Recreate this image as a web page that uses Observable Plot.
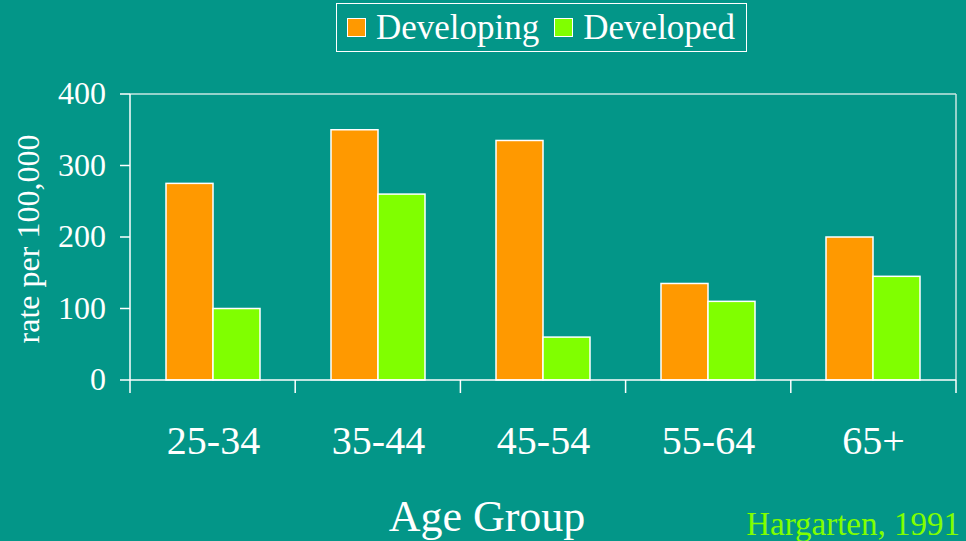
<!DOCTYPE html>
<html><head><meta charset="utf-8">
<script src="https://cdn.jsdelivr.net/npm/d3@7"></script>
<script src="https://cdn.jsdelivr.net/npm/@observablehq/plot@0.6"></script>
<style>
html,body{margin:0;padding:0;background:#039688;}
#wrap{position:relative;width:966px;height:541px;overflow:hidden;font-family:"Liberation Serif","Times New Roman",serif;color:#fff;}
#legend{position:absolute;left:336px;top:3px;width:409px;height:47px;border:1.5px solid #fff;display:flex;align-items:center;font-size:35px;line-height:1;}
#legend .sw{width:17px;height:17px;border:1px solid #fff;margin:0 10px 0 10px;flex:none;}
#legend .gap{width:5px;}
</style></head>
<body>
<div id="wrap"><div id="legend"></div></div>
<script>
const groups = ["25-34", "35-44", "45-54", "55-64", "65+"];
const series = ["Developing", "Developed"];
const developing = [275, 350, 335, 135, 200];
const developed = [100, 260, 60, 110, 145];
const yTicks = [0, 100, 200, 300, 400];
const colors = ["#FF9900", "#80FF00"];
const xLabel = "Age Group";
const yLabel = "rate per 100,000";
const source = "Hargarten, 1991";

const data = groups.flatMap((g, i) => [
  {group: g, series: series[0], value: developing[i]},
  {group: g, series: series[1], value: developed[i]}
]);

const legend = document.getElementById("legend");
series.forEach((s, i) => {
  if (i > 0) { const gp = document.createElement("span"); gp.className = "gap"; legend.appendChild(gp); }
  const sw = document.createElement("span"); sw.className = "sw"; sw.style.background = colors[i];
  const tx = document.createElement("span"); tx.textContent = s;
  legend.appendChild(sw); legend.appendChild(tx);
});

const baseOpts = {
  width: 966, height: 541,
  marginLeft: 130, marginRight: 10, marginTop: 94, marginBottom: 161,
  style: {background: "transparent", color: "#fff", fontFamily: "Liberation Serif, Times New Roman, serif", fontSize: "32px"},
  facet: {data, x: "group"},
  fx: {domain: groups, paddingInner: 0.43, paddingOuter: 0.215, label: null, tickSize: 0, tickPadding: 45, axis: "bottom"},
  x: {domain: series, axis: null, padding: 0},
  color: {domain: series, range: colors}
};
const bars = Plot.barY(data, {x: "series", y: "value", fill: "series", stroke: "#fff", strokeWidth: 1.5});

let chart, manualY = false;
try {
  chart = Plot.plot({
    ...baseOpts,
    y: {domain: [0, 400], label: null},
    marks: [bars, Plot.axisY({facet: "super", ticks: yTicks, tickSize: 10, tickPadding: 14, label: null, anchor: "left"})]
  });
  const t = chart.querySelector('[aria-label^="y-axis tick"]');
  if (!t) throw new Error("no axis");
} catch (e) {
  manualY = true;
  chart = Plot.plot({...baseOpts, y: {domain: [0, 400], axis: null}, marks: [bars]});
}
document.getElementById("wrap").prepend(chart);

const svg = d3.select(chart);
svg.style("position", "absolute").style("left", "0px").style("top", "0px");
svg.selectAll('[aria-label^="fx-axis"]').attr("font-size", 40);

const fxS = chart.scale("fx"), yS = chart.scale("y");
const [x0, x1] = fxS.range;
const [yb, yt] = yS.range;
const ys = d3.scaleLinear(yS.domain, yS.range);
const g = svg.append("g").attr("stroke", "#fff").attr("fill", "none");
g.append("line").attr("x1", x0).attr("x2", x1).attr("y1", yt).attr("y2", yt).attr("stroke", "#c8e6e2").attr("stroke-width", 1.5);
g.append("line").attr("x1", x1).attr("x2", x1).attr("y1", yt).attr("y2", yb).attr("stroke", "#c8e6e2").attr("stroke-width", 1.5);
g.append("line").attr("x1", x0).attr("x2", x1).attr("y1", yb).attr("y2", yb).attr("stroke-width", 1.5);
g.append("line").attr("x1", x0).attr("x2", x0).attr("y1", yt).attr("y2", yb).attr("stroke-width", 1.5);
const step = (x1 - x0) / groups.length;
d3.range(groups.length + 1).forEach(i => {
  g.append("line").attr("x1", x0 + i * step).attr("x2", x0 + i * step).attr("y1", yb).attr("y2", yb + 13).attr("stroke-width", 1.5);
});
if (manualY) {
  yTicks.forEach(v => {
    g.append("line").attr("x1", x0 - 10).attr("x2", x0).attr("y1", ys(v)).attr("y2", ys(v)).attr("stroke-width", 1.5);
    svg.append("text").attr("x", x0 - 24).attr("y", ys(v)).attr("dy", "0.32em").attr("text-anchor", "end")
      .attr("fill", "#fff").attr("font-size", 32).text(v);
  });
}
const tg = svg.append("g").attr("fill", "#fff").attr("font-family", "Liberation Serif, Times New Roman, serif");
tg.append("text").attr("x", 487).attr("y", 531).attr("text-anchor", "middle").attr("font-size", 44).text(xLabel);
tg.append("text").attr("transform", `translate(39,${(yb + yt) / 2 + 2}) rotate(-90)`).attr("text-anchor", "middle").attr("font-size", 32).text(yLabel);
tg.append("text").attr("x", 960).attr("y", 535).attr("text-anchor", "end").attr("font-size", 33).attr("fill", "#80FF00").text(source);
</script>
</body></html>
